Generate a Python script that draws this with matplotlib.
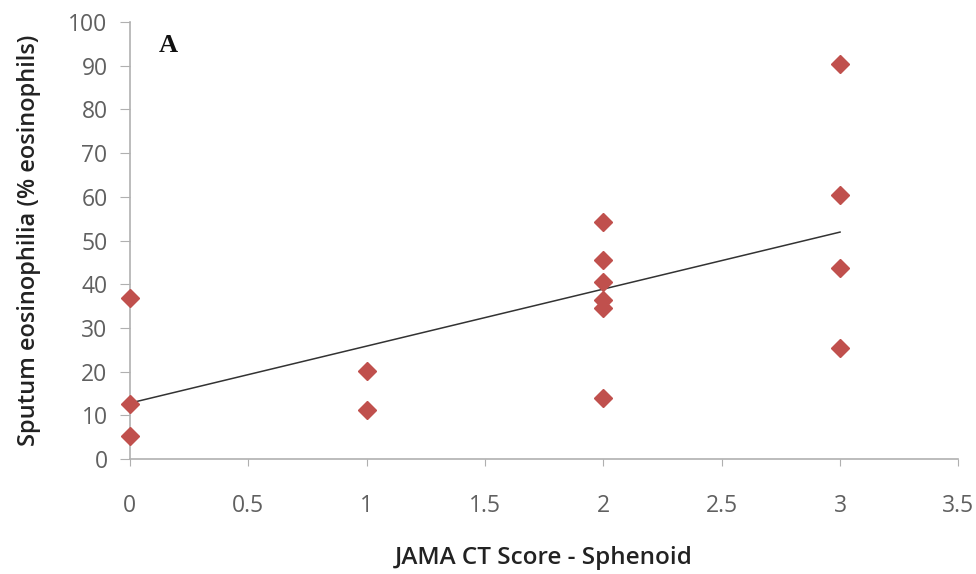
import numpy as np
import matplotlib.pyplot as plt

# JAMA CT score (sphenoid) vs sputum eosinophilia
ct_score = [0, 0, 0, 1, 1, 2, 2, 2, 2, 2, 2, 3, 3, 3, 3]
eos_pct = [36.8, 12.6, 5.3, 20.2, 11.2, 54.2, 45.5, 40.5, 36.5, 34.5, 14.0, 90.4, 60.4, 43.7, 25.4]

x_ticks = [0, 0.5, 1, 1.5, 2, 2.5, 3, 3.5]
x_tick_labels = ['0', '0.5', '1', '1.5', '2', '2.5', '3', '3.5']
y_ticks = list(range(0, 101, 10))

plt.rcParams['font.family'] = ['Open Sans', 'DejaVu Sans']

fig = plt.figure(figsize=(9.76, 5.74), dpi=100)
ax = fig.add_axes([0.133, 0.2, 0.849, 0.762])

ax.plot(ct_score, eos_pct, linestyle='none', marker='D', markersize=9,
        color='#c0504d', zorder=3, clip_on=False)

# linear trend line across the observed x range
slope, icpt = np.polyfit(ct_score, eos_pct, 1)
xs = np.array([min(ct_score), max(ct_score)])
ax.plot(xs, slope * xs + icpt, color='#333333', lw=1.1, zorder=2)

ax.set_xlim(0, 3.5)
ax.set_ylim(0, 100)
ax.set_xticks(x_ticks)
ax.set_xticklabels(x_tick_labels)
ax.set_yticks(y_ticks)

for side in ['top', 'right']:
    ax.spines[side].set_visible(False)
for side in ['left', 'bottom']:
    ax.spines[side].set_color('#b0b0b0')
    ax.spines[side].set_linewidth(1.2)

ax.tick_params(axis='y', direction='out', length=7, color='#b0b0b0',
               labelsize=16.5, labelcolor='#606060', pad=9)
ax.tick_params(axis='x', direction='out', length=5, color='#b0b0b0',
               labelsize=16.5, labelcolor='#606060', pad=20)

ax.set_xlabel('JAMA CT Score - Sphenoid', fontsize=17.5, color='#222222',
              fontweight='semibold', labelpad=20)
ax.set_ylabel('Sputum eosinophilia (% eosinophils)', fontsize=17,
              color='#222222', fontweight='semibold', labelpad=20)

ax.text(0.035, 0.945, 'A', transform=ax.transAxes, fontsize=19,
        fontweight='bold', family='Liberation Serif', color='#111111',
        ha='left', va='center')

fig.savefig('out.png', dpi=100)
